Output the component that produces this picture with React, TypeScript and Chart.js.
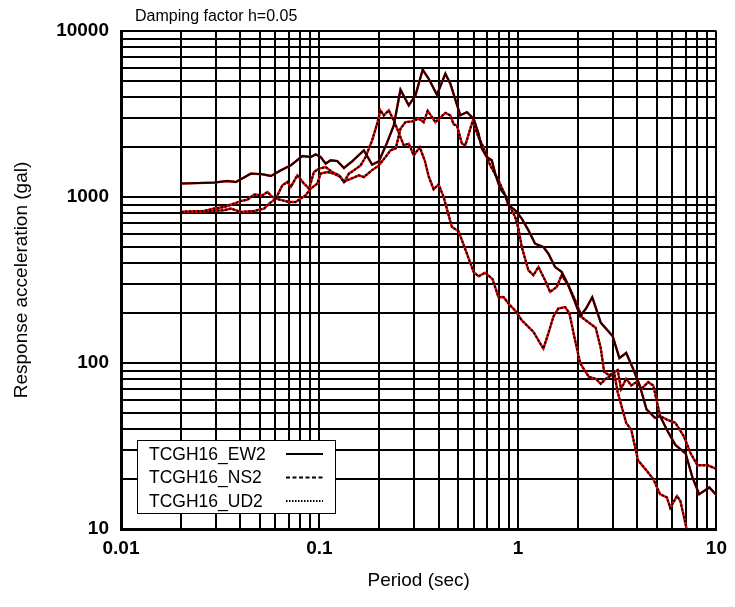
import React, { useEffect, useRef } from 'react';
import { Chart, registerables } from 'chart.js';

Chart.register(...registerables);

const FONT = '"Liberation Sans", Arial, Helvetica, sans-serif';

// ---- Data (period in sec, response acceleration in gal) ----
const ew2Period = [0.0201, 0.0295, 0.0343, 0.0379, 0.0451, 0.0516, 0.0569, 0.0638, 0.0717, 0.082, 0.0903, 0.0957, 0.1014, 0.1074, 0.1138, 0.1229, 0.1328, 0.1462, 0.1674, 0.1842, 0.1991, 0.2191, 0.2368, 0.2559, 0.2817, 0.3044, 0.3312, 0.355, 0.3908, 0.4308, 0.4564, 0.5122, 0.553, 0.5976, 0.6332, 0.6578, 0.6968, 0.7384, 0.7679, 0.8137, 0.8623, 0.896, 0.968, 1.045, 1.129, 1.22, 1.343, 1.423, 1.538, 1.66, 1.794, 1.922, 2.061, 2.209, 2.368, 2.613, 3.0, 3.244, 3.51, 3.796, 4.107, 4.443, 4.903, 5.201, 5.627, 6.209, 6.995, 7.567, 8.187, 9.211, 10];
const ew2Accel = [1204, 1221, 1249, 1231, 1383, 1370, 1338, 1447, 1551, 1765, 1741, 1807, 1741, 1589, 1663, 1647, 1495, 1640, 1910, 1566, 1640, 2125, 2700, 4429, 3563, 4092, 5843, 5156, 4131, 5527, 4812, 3101, 3247, 2963, 2407, 1955, 1741, 1663, 1383, 1123, 1024, 891, 832, 741, 630, 524, 500, 456, 379, 354, 294, 239, 192, 214, 249, 175, 145, 107, 115, 92.7, 73.2, 52.6, 46.7, 47.9, 39.6, 32.1, 28.5, 20.5, 16.2, 17.8, 16.0];

const ns2Period = [0.0201, 0.0263, 0.0295, 0.0331, 0.0379, 0.0402, 0.0434, 0.0469, 0.0516, 0.0547, 0.0579, 0.0603, 0.065, 0.0703, 0.0759, 0.0804, 0.0852, 0.0903, 0.0975, 0.1014, 0.1094, 0.1183, 0.1278, 0.1328, 0.1375, 0.1457, 0.1579, 0.1674, 0.1836, 0.1991, 0.2151, 0.2279, 0.2423, 0.2559, 0.2712, 0.2927, 0.3162, 0.335, 0.351, 0.3837, 0.4308, 0.4564, 0.4742, 0.4926, 0.522, 0.5429, 0.5753, 0.5908, 0.6332, 0.6708, 0.7249, 0.798, 0.8623, 0.896, 0.968, 1.006, 1.045, 1.129, 1.197, 1.268, 1.37, 1.452, 1.567, 1.66, 1.794, 1.945, 2.104, 2.306, 2.464, 2.613, 2.718, 2.883, 3.181, 3.308, 3.51, 3.723, 3.949, 4.189, 4.532, 4.808, 5.201, 5.627, 6.209, 6.858, 7.42, 8.027, 9.032, 10];
const ns2Accel = [812, 824, 852, 871, 920, 946, 965, 1034, 1024, 1072, 1000, 978, 955, 933, 933, 978, 1024, 1123, 1204, 1383, 1414, 1383, 1319, 1231, 1260, 1296, 1351, 1319, 1447, 1551, 1741, 1910, 1963, 2580, 2827, 2855, 2963, 2827, 3301, 2827, 3211, 3101, 2738, 2701, 2096, 2047, 2580, 2855, 2287, 1991, 1551, 1260, 1024, 913, 758, 645, 500, 362, 338, 379, 315, 268, 287, 338, 294, 238, 188, 173, 163, 123, 88.4, 84.3, 90.5, 69.8, 80.4, 73.2, 76.7, 69.8, 76.7, 73.2, 47.9, 45.6, 43.6, 36.1, 28.5, 24.2, 24.2, 23.0];

const ud2Period = [0.0201, 0.0273, 0.0331, 0.0358, 0.0402, 0.0469, 0.0526, 0.0557, 0.0603, 0.065, 0.0689, 0.0717, 0.0773, 0.0836, 0.0886, 0.0938, 0.0994, 0.1075, 0.1159, 0.1253, 0.1328, 0.1407, 0.1491, 0.1611, 0.1707, 0.1842, 0.1952, 0.203, 0.2109, 0.2234, 0.2368, 0.2559, 0.2659, 0.2817, 0.2985, 0.32, 0.339, 0.355, 0.376, 0.3985, 0.4223, 0.4648, 0.5023, 0.5639, 0.5976, 0.6332, 0.6843, 0.7447, 0.798, 0.8455, 0.896, 0.968, 1.045, 1.129, 1.197, 1.268, 1.343, 1.423, 1.508, 1.597, 1.727, 1.815, 1.945, 2.061, 2.277, 2.464, 2.613, 2.772, 3.058, 3.181, 3.51, 3.723, 4.027, 4.443, 4.808, 5.201, 5.627, 5.852, 6.332, 6.586, 7.126, 7.45];
const ud2Accel = [812, 824, 832, 852, 812, 824, 852, 913, 978, 1176, 1231, 1149, 1351, 1204, 1123, 1414, 1482, 1515, 1414, 1351, 1231, 1383, 1447, 1551, 1741, 2194, 2764, 3324, 3101, 3324, 2894, 2296, 2047, 2096, 1782, 1991, 1663, 1332, 1113, 1192, 998, 660, 622, 428, 354, 333, 350, 320, 249, 250, 228, 207, 181, 165, 154, 137, 122, 151, 190, 213, 217, 200, 135, 99.4, 82.4, 80.4, 74.9, 80.4, 86.3, 66.6, 43.6, 39.6, 25.9, 22.5, 20.0, 16.2, 15.5, 13.4, 15.8, 14.7, 9.65, 8.0];

// ---- Axis ticks ----
const xTickValues = [0.01, 0.1, 1, 10];
const xTickLabels = ['0.01', '0.1', '1', '10'];
const yTickValues = [10, 100, 1000, 10000];
const yTickLabels = ['10', '100', '1000', '10000'];
const gridMultipliers = [1, 2, 3, 4, 5, 6, 7, 8, 9];

const seriesNames = ['TCGH16_EW2', 'TCGH16_NS2', 'TCGH16_UD2'];
const titleText = 'Damping factor h=0.05';
const xTitle = 'Period (sec)';
const yTitle = 'Response acceleration (gal)';

const plotDashes: number[][] = [[], [2, 2], [2, 2]];
const legendDashes: number[][] = [[], [4, 2.5], [1.5, 1.5]];

function gridValues(decadeValues: number[]): number[] {
  const out: number[] = [];
  for (let i = 0; i < decadeValues.length - 1; i++) {
    for (const m of gridMultipliers) out.push(Number((decadeValues[i] * m).toPrecision(6)));
  }
  out.push(decadeValues[decadeValues.length - 1]);
  return out;
}

function labelFor(value: number, values: number[], labels: string[]): string {
  for (let i = 0; i < values.length; i++) {
    if (Math.abs(Math.log10(value) - Math.log10(values[i])) < 1e-6) return labels[i];
  }
  return '';
}

const overlayPlugin = {
  id: 'overlayText',
  afterDraw(chart: any) {
    const ctx = chart.ctx as CanvasRenderingContext2D;
    ctx.save();
    // title
    ctx.fillStyle = '#000';
    ctx.font = `16px ${FONT}`;
    ctx.textAlign = 'left';
    ctx.textBaseline = 'alphabetic';
    ctx.fillText(titleText, 135, 21);

    // legend
    const bx = 137, by = 440, bw = 198, bh = 73;
    ctx.fillStyle = '#fff';
    ctx.fillRect(bx, by, bw, bh);
    ctx.strokeStyle = '#000';
    ctx.lineWidth = 1;
    ctx.setLineDash([]);
    ctx.strokeRect(bx + 0.5, by + 0.5, bw, bh);
    ctx.font = `17.5px ${FONT}`;
    ctx.textBaseline = 'middle';
    seriesNames.forEach((name, i) => {
      const cy = by + 14 + i * 23.5;
      ctx.fillStyle = '#000';
      ctx.fillText(name, 149, cy + 1);
      ctx.beginPath();
      ctx.setLineDash(legendDashes[i]);
      ctx.lineWidth = 2;
      ctx.strokeStyle = '#000';
      ctx.moveTo(286, cy);
      ctx.lineTo(323, cy);
      ctx.stroke();
    });
    ctx.restore();
  },
};

export default function App() {
  const ref = useRef<HTMLCanvasElement | null>(null);

  useEffect(() => {
    document.body.style.margin = '0';
    const canvas = ref.current;
    if (!canvas) return;

    const periods = [ew2Period, ns2Period, ud2Period];
    const accels = [ew2Accel, ns2Accel, ud2Accel];
    const datasets: any[] = [];
    seriesNames.forEach((name, i) => {
      const n = Math.min(periods[i].length, accels[i].length);
      const data = [] as { x: number; y: number }[];
      for (let k = 0; k < n; k++) data.push({ x: periods[i][k], y: accels[i][k] });
      datasets.push({
        label: name + ' (base)',
        data,
        borderColor: '#f00000',
        borderWidth: 2.4,
        pointRadius: 0,
        tension: 0,
        fill: false,
        order: 2,
      });
      datasets.push({
        label: name,
        data,
        borderColor: i === 0 ? '#1a0000' : '#000',
        borderWidth: 2,
        borderDash: plotDashes[i],
        pointRadius: 0,
        tension: 0,
        fill: false,
        order: 1,
      });
    });

    const xGrid = gridValues(xTickValues);
    const yGrid = gridValues(yTickValues);

    const chart = new Chart(canvas, {
      type: 'line',
      data: { datasets },
      options: {
        animation: false,
        responsive: false,
        devicePixelRatio: 1,
        parsing: false as any,
        layout: { padding: { left: 0, right: 17, top: 31, bottom: 0 } },
        plugins: {
          legend: { display: false },
          tooltip: { enabled: false },
          title: { display: false },
        },
        scales: {
          x: {
            type: 'logarithmic',
            min: xTickValues[0],
            max: xTickValues[xTickValues.length - 1],
            afterBuildTicks: (scale: any) => {
              scale.ticks = xGrid.map((v) => ({ value: v }));
            },
            afterFit: (scale: any) => {
              scale.height = 78;
            },
            ticks: {
              autoSkip: false,
              maxRotation: 0,
              minRotation: 0,
              padding: 8,
              color: '#000',
              font: { family: FONT, size: 19, weight: 'bold' },
              callback: (v: any) => labelFor(Number(v), xTickValues, xTickLabels),
            },
            grid: { color: '#000', lineWidth: 2, drawTicks: false },
            border: { display: true, color: '#000', width: 3 },
            title: {
              display: true,
              text: xTitle,
              color: '#000',
              font: { family: FONT, size: 19 },
              padding: { top: 0, bottom: 15 },
            },
          },
          y: {
            type: 'logarithmic',
            min: yTickValues[0],
            max: yTickValues[yTickValues.length - 1],
            afterBuildTicks: (scale: any) => {
              scale.ticks = yGrid.map((v) => ({ value: v }));
            },
            afterFit: (scale: any) => {
              scale.width = 121;
            },
            ticks: {
              autoSkip: false,
              padding: 12,
              color: '#000',
              font: { family: FONT, size: 19, weight: 'bold' },
              callback: (v: any) => labelFor(Number(v), yTickValues, yTickLabels),
            },
            grid: { color: '#000', lineWidth: 2, drawTicks: false },
            border: { display: true, color: '#000', width: 3 },
            title: {
              display: true,
              text: yTitle,
              color: '#000',
              font: { family: FONT, size: 19 },
              padding: { top: 10, bottom: 0 },
            },
          },
        },
      },
      plugins: [overlayPlugin],
    });

    return () => chart.destroy();
  }, []);

  return (
    <div style={{ width: 735, height: 607, position: 'relative', background: '#fff' }}>
      <canvas ref={ref} width={735} height={607} style={{ display: 'block' }} />
    </div>
  );
}
